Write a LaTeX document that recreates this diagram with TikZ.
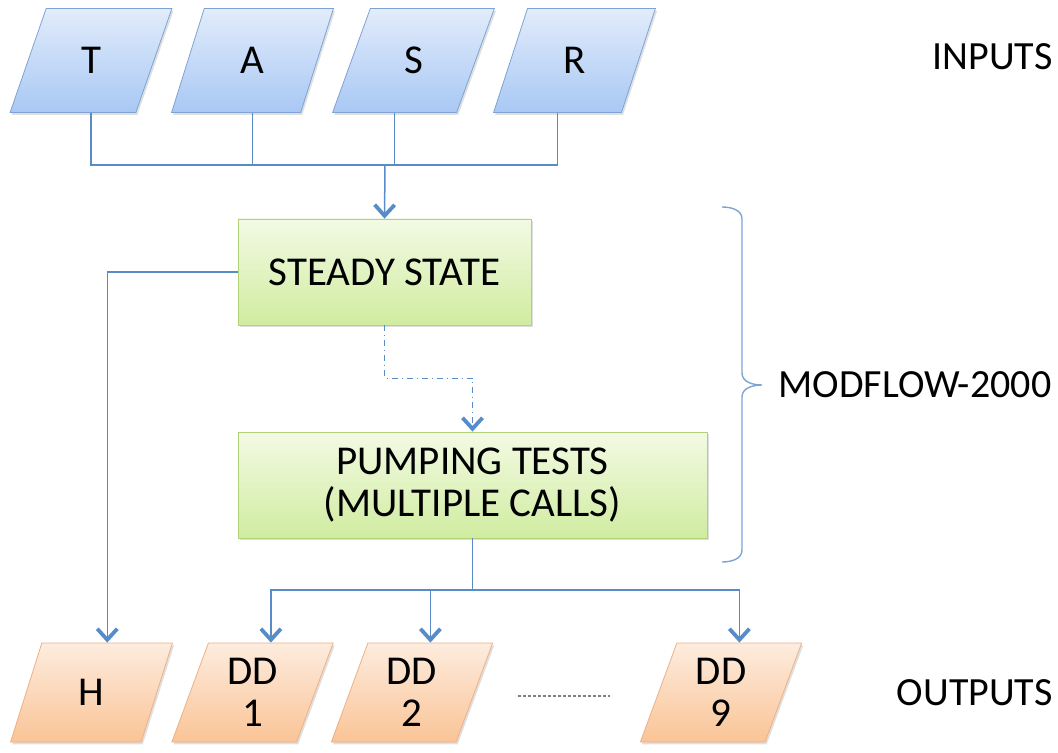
\documentclass[tikz,border=0pt]{standalone}
\usepackage{fontspec}
\setmainfont{Carlito}
\usepackage{xcolor}
\usepackage{tikz}
\usetikzlibrary{positioning, arrows.meta, calc, shapes.geometric, shadows}
\definecolor{flow}{RGB}{88,140,200}
\definecolor{inedge}{RGB}{125,163,213}
\definecolor{intop}{RGB}{226,236,251}
\definecolor{inbot}{RGB}{168,200,244}
\definecolor{procedge}{RGB}{178,210,122}
\definecolor{proctop}{RGB}{243,250,228}
\definecolor{procbot}{RGB}{208,236,160}
\definecolor{outedge}{RGB}{238,176,132}
\definecolor{outtop}{RGB}{253,236,222}
\definecolor{outbot}{RGB}{250,196,150}
\tikzset{
  bigfont/.style={font=\fontsize{20.5}{21}\selectfont},
  slanted/.style={
    trapezium, trapezium left angle=73, trapezium right angle=107,
    trapezium stretches=true, minimum width=81pt, minimum height=52pt,
    inner sep=0pt, align=center, bigfont,
    drop shadow={opacity=0.25, shadow xshift=0.8pt, shadow yshift=-1.2pt}
  },
  inshape/.style={slanted, draw=inedge, top color=intop, bottom color=inbot},
  outshape/.style={slanted, minimum height=49.5pt, draw=outedge, top color=outtop, bottom color=outbot},
  process/.style={
    rectangle, draw=procedge, top color=proctop, bottom color=procbot,
    minimum height=53pt, align=center, bigfont,
    drop shadow={opacity=0.25, shadow xshift=0.8pt, shadow yshift=-1.2pt}
  },
  link/.style={draw=flow, line width=0.75pt},
  flowarrow/.style={link, -{Straight Barb[length=5.5pt,width=10pt,line width=1.9pt]}},
  sidelabel/.style={font=\fontsize{20}{21}\selectfont, inner sep=0pt},
}

\begin{document}
\begin{tikzpicture}[x=0.5pt, y=-0.5pt]
  \useasboundingbox (0,0) rectangle (1058,753);

  % inputs
  \node[inshape] (T) at (91,60.5) {T};
  \node[inshape] (A) at (252.5,60.5) {A};
  \node[inshape] (S) at (413.5,60.5) {S};
  \node[inshape] (R) at (574.5,60.5) {R};
  \node[sidelabel, anchor=east] (inputs) at (1053,57) {INPUTS};

  % modflow runs
  \node[process, minimum width=146.5pt] (SS) at (384.5,272) {STEADY STATE};
  \node[process, minimum width=234.5pt] (PT) at (472.5,485) {PUMPING TESTS\\(MULTIPLE CALLS)};

  % outputs
  \node[outshape] (H) at (91.5,692.5) {H};
  \node[outshape] (DD1) at (252.5,692.5) {DD\\1};
  \node[outshape] (DD2) at (412,692.5) {DD\\2};
  \node[outshape] (DD9) at (721,692.5) {DD\\9};
  \node[sidelabel, anchor=east] (outputs) at (1053,693) {OUTPUTS};

  \coordinate (join) at (385,165);
  \coordinate (split) at (472.5,590);
  \coordinate (dotsL) at (518,696);
  \coordinate (dotsR) at (610,696);
  \coordinate (brtop) at (722,207);
  \coordinate (brtip) at (762,385);
  \coordinate (brbot) at (722,562);

  \draw[link] (T.center |- T.south) |- (join);
  \draw[link] (A.center |- A.south) |- (join);
  \draw[link] (S.bottom side) |- (join);
  \draw[link] (R.bottom side) |- (join);
  \draw[flowarrow] (join) -- (SS.north);

  \draw[flowarrow, line width=0.5pt, dash dot] (SS.south) -- ++(0,53) -| (PT.north);
  \draw[flowarrow] (SS.west) -| (H.top side);

  \draw[link] (PT.south) -- (split);
  \draw[flowarrow] (split) -| (DD1.top side);
  \draw[flowarrow] (split) -| (DD2.top side);
  \draw[flowarrow] (split) -| (DD9.top side);

  \draw[gray, line width=0.6pt, dash pattern=on 1.5pt off 1pt] (dotsL) -- (dotsR);

  % brace
  \draw[inedge, line width=0.7pt] (brtop) to[out=0,in=90] ($(brtop)+(20,12)$)
    -- ($(brtip)+(-20,-12)$) to[out=-90,in=180] (brtip)
    to[out=180,in=90] ($(brtip)+(-20,12)$)
    -- ($(brbot)+(20,-12)$) to[out=-90,in=0] (brbot);
  \node[sidelabel, anchor=west] (modflow) at (778,385) {MODFLOW-2000};
\end{tikzpicture}
\end{document}
